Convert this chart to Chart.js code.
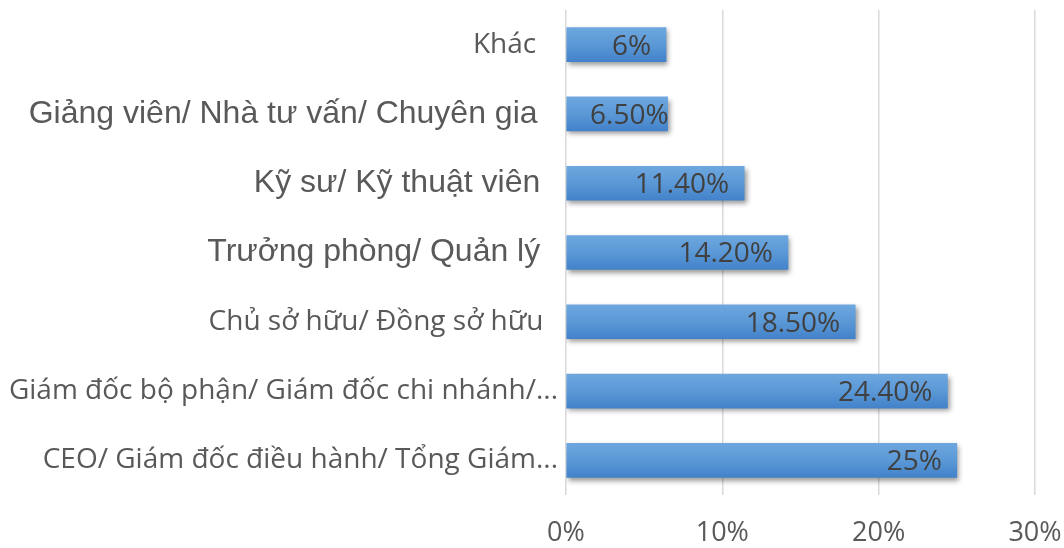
<!DOCTYPE html>
<html>
<head>
<meta charset="utf-8">
<script src="https://cdn.jsdelivr.net/npm/chart.js@4.4.1/dist/chart.umd.min.js"></script>
<style>
  html, body { margin: 0; padding: 0; background: #ffffff; }
  #wrap { width: 1064px; height: 548px; position: relative; }
</style>
</head>
<body>
<div id="wrap"><canvas id="c" width="1064" height="548"></canvas></div>
<script>
const categories = [
  "Khác",
  "Giảng viên/ Nhà tư vấn/ Chuyên gia",
  "Kỹ sư/ Kỹ thuật viên",
  "Trưởng phòng/ Quản lý",
  "Chủ sở hữu/ Đồng sở hữu",
  "Giám đốc bộ phận/ Giám đốc chi nhánh/...",
  "CEO/ Giám đốc điều hành/ Tổng Giám..."
];
const values = [6.4, 6.5, 11.4, 14.2, 18.5, 24.4, 25];
const valueLabels = ["6%", "6.50%", "11.40%", "14.20%", "18.50%", "24.40%", "25%"];
const xTicks = [0, 10, 20, 30];

const tickFonts = [
  { family: "'Open Sans'", size: 28 },
  { family: "'Liberation Sans'", size: 32 },
  { family: "'Liberation Sans'", size: 32 },
  { family: "'Liberation Sans'", size: 32 },
  { family: "'Open Sans'", size: 28 },
  { family: "'Open Sans'", size: 28 },
  { family: "'Open Sans'", size: 28 }
];
const trailing = ['\u00a0\u00a0\u00a0', '\u00a0\u00a0\u200a', '\u00a0\u00a0', '\u00a0\u00a0', '\u00a0\u00a0', '', ''];

const barStyle = {
  id: 'barStyle',
  beforeDatasetsDraw(chart) {
    const ctx = chart.ctx;
    const meta = chart.getDatasetMeta(0);
    meta.data.forEach(el => {
      const top = el.y - el.height / 2, bot = el.y + el.height / 2;
      const g = ctx.createLinearGradient(0, top, 0, bot);
      g.addColorStop(0, '#6ea7df');
      g.addColorStop(0.5, '#5a98d6');
      g.addColorStop(1, '#4382ca');
      el.options = Object.assign({}, el.options, { backgroundColor: g });
    });
    ctx.save();
    ctx.shadowColor = 'rgba(0,0,0,0.4)';
    ctx.shadowBlur = 5;
    ctx.shadowOffsetX = 2;
    ctx.shadowOffsetY = 3;
  },
  afterDatasetsDraw(chart) {
    const ctx = chart.ctx;
    ctx.restore();
    const meta = chart.getDatasetMeta(0);
    ctx.save();
    ctx.fillStyle = '#404040';
    ctx.textAlign = 'right';
    ctx.textBaseline = 'middle';
    ctx.font = "28px 'Open Sans'";
    meta.data.forEach((el, i) => {
      const w = ctx.measureText(valueLabels[i]).width;
      let xEnd = el.x - 15;
      if (xEnd - w < el.base + 25) xEnd = el.x + 1;
      ctx.fillText(valueLabels[i], xEnd, el.y + 2);
    });
    ctx.restore();
  }
};

new Chart(document.getElementById('c'), {
  type: 'bar',
  data: {
    labels: categories,
    datasets: [{
      data: values,
      backgroundColor: '#5b9bd5',
      borderWidth: 0,
      barThickness: 34
    }]
  },
  plugins: [barStyle],
  options: {
    indexAxis: 'y',
    responsive: false,
    animation: false,
    layout: { padding: { top: 10, right: 29, bottom: 0, left: 0 } },
    plugins: { legend: { display: false }, tooltip: { enabled: false } },
    scales: {
      x: {
        min: 0, max: 30,
        afterBuildTicks(scale) { scale.ticks = xTicks.map(v => ({ value: v })); },
        afterFit(scale) { scale.height = 53; scale.paddingLeft = 0; scale.paddingRight = 0; },
        ticks: {
          callback: v => v + '%',
          color: '#595959',
          font: { family: "'Open Sans'", size: 27 },
          padding: 22,
          maxRotation: 0
        },
        grid: { color: '#d9d9d9', lineWidth: 1.5, drawTicks: false },
        border: { display: false }
      },
      y: {
        afterFit(scale) { scale.width = 566; scale.paddingTop = 0; scale.paddingBottom = 0; },
        ticks: {
          callback: function(v, i) { return categories[i] + trailing[i]; },
          color: '#595959',
          font: ctx => tickFonts[ctx.index],
          padding: 0,
          autoSkip: false
        },
        grid: { display: false },
        border: { display: false }
      }
    }
  }
});
</script>
</body>
</html>
